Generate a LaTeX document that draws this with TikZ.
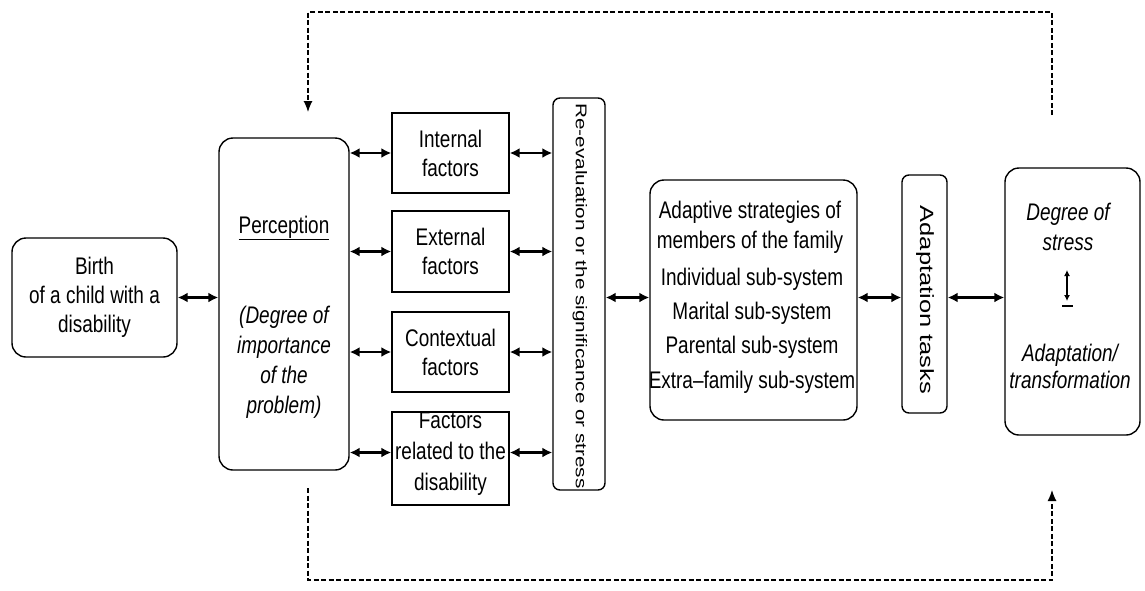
\documentclass[tikz,border=0pt]{standalone}
\usepackage{fontspec}
\setmainfont{Liberation Sans}[FakeStretch=0.79]
\newfontfamily\rotfont{Liberation Sans}
\usetikzlibrary{arrows.meta,calc}
\begin{document}
\begin{tikzpicture}[x=1pt,y=-1pt,
  box/.style={draw, line width=1.4pt, inner sep=0pt},
  rbox/.style={box, rounded corners=14pt},
  sbox/.style={box, rounded corners=7pt},
  txt/.style={font=\fontsize{24}{29}\selectfont, align=center, inner sep=0pt},
  itxt/.style={font=\fontsize{24}{30}\selectfont\itshape, align=center, inner sep=0pt},
  rtxt/.style={rotate=-90, yscale=0.75, inner sep=0pt},
  dbl/.style={line width=2.2pt, {Latex[length=10pt,width=10pt]}-{Latex[length=10pt,width=10pt]}},
  small/.style={line width=1.2pt, {Latex[length=6pt,width=6pt]}-{Latex[length=6pt,width=6pt]}},
  fb/.style={dash pattern=on 5pt off 2.5pt, line width=1.2pt}]
\useasboundingbox (0,0) rectangle (1145,590);

% boxes
\node[rbox, txt, minimum width=165pt, minimum height=119pt] (birth) at (94.5,297.5) {Birth\\of a child with a\\disability};
\node[rbox, minimum width=130pt, minimum height=332pt] (perc) at (284,304) {};
\node[txt] (ptitle) at (284,228) {\underline{Perception}};
\node[itxt] (pdesc) at (284,362) {(Degree of\\importance\\of the\\problem)};

\node[box, txt, minimum width=117pt, minimum height=80pt] (f1) at (450.5,153) {Internal\\factors};
\node[box, txt, minimum width=117pt, minimum height=81pt] (f2) at (450.5,251.5) {External\\factors};
\node[box, txt, minimum width=117pt, minimum height=80pt] (f3) at (450.5,352) {Contextual\\factors};
\node[box, minimum width=117pt, minimum height=93pt] (f4) at (450.5,458.5) {};
\node[font=\fontsize{24}{31}\selectfont, align=center, inner sep=0pt] (f4t) at (450.5,454) {Factors\\related to the\\disability};

\node[sbox, minimum width=52pt, minimum height=392pt] (re) at (579,294) {};
\node[rtxt, font=\rotfont\fontsize{20.7}{24}\selectfont] (ret) at (580,296) {Re-evaluation or the significance or stress};

\node[rbox, minimum width=207pt, minimum height=240pt] (adapt) at (753.5,300) {};
\node[font=\fontsize{24}{30}\selectfont, align=center, inner sep=0pt] (a1) at (750,227) {Adaptive strategies of\\members of the family};
\node[font=\fontsize{24}{34.3}\selectfont, align=center, inner sep=0pt] (a2) at (752,330.5) {Individual sub-system\\Marital sub-system\\Parental sub-system\\Extra–family sub-system};

\node[sbox, minimum width=45pt, minimum height=238pt] (tasks) at (924.5,294) {};
\node[rtxt, font=\rotfont\fontsize{25.5}{30}\selectfont] (tt) at (925,300) {Adaptation tasks};

\node[rbox, minimum width=135pt, minimum height=267pt] (deg) at (1072.5,301.5) {};
\node[itxt] (d1) at (1068,227) {Degree of\\stress};
\node[font=\fontsize{24}{27}\selectfont\itshape, align=center, inner sep=0pt] (d2) at (1070,366.5) {Adaptation/\\transformation};
% small two-way arrow with base line
\coordinate (sa1) at (1067,270);
\coordinate (sa2) at (1067,301);
\coordinate (sb1) at (1062,306);
\coordinate (sb2) at (1073,306);
\draw[small] (sa1) -- (sa2);
\draw[line width=1.6pt] (sb1) -- (sb2);

% arrows
\draw[dbl] (birth.east) -- (birth.east -| perc.west);
\foreach \f in {f1,f2,f3} {
  \draw[dbl] (\f.west -| perc.east) -- (\f.west);
  \draw[dbl] (\f.east) -- (\f.east -| re.west);
}
\draw[dbl] ([yshift=6pt]f4.west -| perc.east) -- ([yshift=6pt]f4.west);
\draw[dbl] ([yshift=6pt]f4.east) -- ([yshift=6pt]f4.east -| re.west);
\draw[dbl] (re.east |- birth.east) -- (adapt.west |- birth.east);
\draw[dbl] (adapt.east |- birth.east) -- (tasks.west |- birth.east);
\draw[dbl] (tasks.east |- birth.east) -- (deg.west |- birth.east);

% feedback loops
\coordinate (topR) at (1052,115);
\coordinate (topM) at (680,12);
\coordinate (topL) at (308,112);
\draw[fb, -{Latex[length=11pt,width=9pt]}] (topR) |- (topM) -| (topL);
\coordinate (botL) at (308,488);
\coordinate (botM) at (680,580);
\coordinate (botR) at (1052,490);
\draw[fb, -{Latex[length=11pt,width=9pt]}] (botL) |- (botM) -| (botR);
\end{tikzpicture}
\end{document}
